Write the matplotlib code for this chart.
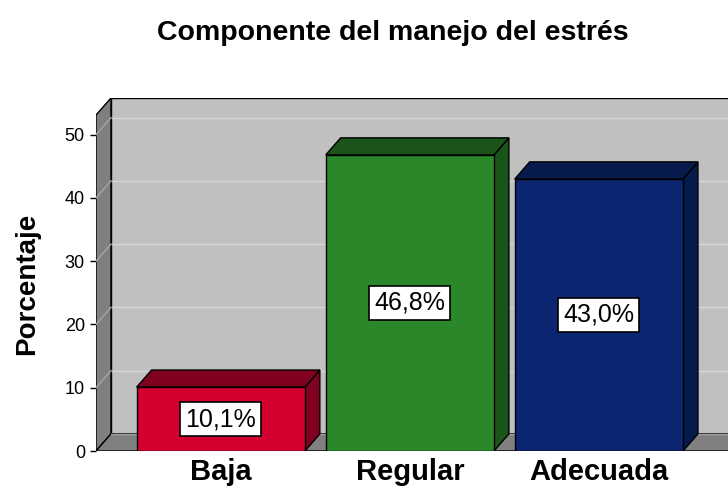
import matplotlib.pyplot as plt
from matplotlib.patches import Polygon

plt.rcParams['font.family'] = ['Liberation Sans', 'DejaVu Sans']

categories = ['Baja', 'Regular', 'Adecuada']
percentages = [10.1, 46.8, 43.0]
value_labels = ['10,1%', '46,8%', '43,0%']
y_ticks = [0, 10, 20, 30, 40, 50]
front_colors = ['#d4002f', '#2a882a', '#0b2570']
shade_colors = ['#80001f', '#1b541b', '#061a4c']

title = 'Componente del manejo del estrés'
y_label = 'Porcentaje'

# 3d look: depth offset in data units
dx = 0.079
dy = 2.7
bar_w = 0.89
x0, x1 = -0.66, 2.66
ytop = 55.8


def poly(ax, pts, fc, lw=1.0, ec='black', z=1):
    p = Polygon(pts, closed=True, facecolor=fc, edgecolor=ec, linewidth=lw, zorder=z)
    ax.add_patch(p)


fig = plt.figure(figsize=(7.28, 4.91), dpi=100)
ax = fig.add_axes([96 / 728, 40 / 491, 642.6 / 728, 353 / 491])
ax.set_xlim(x0, x1 + dx)
ax.set_ylim(0, ytop)
for s in ax.spines.values():
    s.set_visible(False)
ax.set_facecolor('none')

# walls
poly(ax, [(x0 + dx, dy), (x1 + dx + 0.2, dy), (x1 + dx + 0.2, ytop), (x0 + dx, ytop)], '#c0c0c0', z=1)
poly(ax, [(x0, 0), (x0 + dx, dy), (x0 + dx, ytop), (x0, ytop - dy)], '#7f7f7f', z=3)
poly(ax, [(x0, 0), (x1 + 0.2, 0), (x1 + 0.2 + dx, dy), (x0 + dx, dy)], '#808080', z=3)

for t in y_ticks[1:]:
    ax.plot([x0 + dx, x1 + dx + 0.2], [t + dy, t + dy], color='#d6d6d6', lw=1.0, zorder=2)
    ax.plot([x0, x0 + dx], [t, t + dy], color='#a6a6a6', lw=1.0, zorder=4)
ax.plot([x0 + dx, x1 + 0.2 + dx], [dy, dy], color='#a0a0a0', lw=1.0, zorder=4)

# bars
for i, v in enumerate(percentages):
    l, r = i - bar_w / 2, i + bar_w / 2
    poly(ax, [(r, 0), (r + dx, dy), (r + dx, v + dy), (r, v)], shade_colors[i], z=5)
    poly(ax, [(l, v), (r, v), (r + dx, v + dy), (l + dx, v + dy)], shade_colors[i], z=5)
    poly(ax, [(l, 0), (r, 0), (r, v), (l, v)], front_colors[i], z=6)
    ax.text(i, v / 2, value_labels[i], ha='center', va='center', fontsize=18, zorder=7,
            bbox=dict(boxstyle='square,pad=0.2', facecolor='white', edgecolor='black', linewidth=1.2))

ax.set_yticks(y_ticks)
ax.set_xticks(range(len(categories)), categories)
ax.tick_params(axis='y', length=4, width=1, pad=4, labelsize=13)
ax.tick_params(axis='x', length=0, pad=5, labelsize=21)
for lab in ax.get_xticklabels():
    lab.set_fontweight('bold')

fig.text(393 / 728, 1 - 40 / 491, title, ha='center', va='baseline', fontsize=20.5, fontweight='bold')
fig.text(27 / 728, 1 - 284 / 491, y_label, ha='center', va='center', rotation=90, fontsize=20, fontweight='bold')

fig.savefig('out.png', dpi=100)
